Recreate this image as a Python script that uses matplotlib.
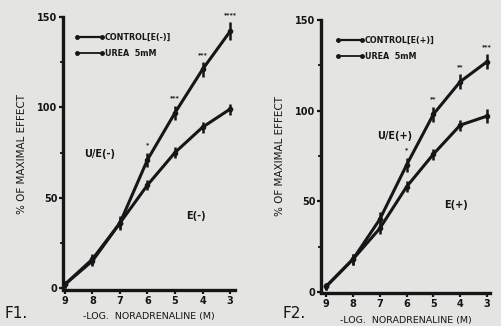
import numpy as np
import matplotlib.pyplot as plt

plt.rcParams['font.family'] = ['DejaVu Sans']
plt.rcParams['font.weight'] = 'bold'

INK = '#161616'
PAPER = '#e4e4e2'

log_conc = [9, 8, 7, 6, 5, 4, 3]

# Fig 1: E(-)
f1_control = [2, 16, 36, 57, 75, 89, 99]
f1_control_err = [2, 3, 3, 3, 3, 3, 3]
f1_urea = [2, 15, 36, 71, 97, 121, 142]
f1_urea_err = [2, 3, 4, 4, 4, 4, 5]
f1_stars = ['', '', '', '*', '***', '***', '****']

# Fig 2: E(+)
f2_control = [3, 18, 35, 58, 76, 92, 97]
f2_control_err = [2, 3, 3, 3, 3, 3, 4]
f2_urea = [3, 18, 40, 70, 98, 116, 127]
f2_urea_err = [2, 3, 4, 4, 4, 4, 4]
f2_stars = ['', '', '', '*', '**', '**', '***']

fig = plt.figure(figsize=(5.01, 3.26), dpi=100, facecolor=PAPER)
W, H = 501.0, 326.0


def panel(rect, xlim, ylim, ctrl, ctrl_err, urea, urea_err, stars,
          legend_name, u_label, e_label, u_pos, e_pos, fig_label, fig_pos):
    x0, y0, x1, y1 = rect
    ax = fig.add_axes([x0 / W, 1 - y1 / H, (x1 - x0) / W, (y1 - y0) / H])
    ax.set_facecolor(PAPER)
    ax.set_xlim(*xlim)
    ax.set_ylim(*ylim)
    for s in ['top', 'right']:
        ax.spines[s].set_visible(False)
    for s in ['left', 'bottom']:
        ax.spines[s].set_linewidth(2.4)
        ax.spines[s].set_color(INK)
    ax.spines['left'].set_bounds(0, 150)

    ax.errorbar(log_conc, ctrl, yerr=ctrl_err, color=INK, lw=2.2,
                marker='o', ms=3, capsize=0, elinewidth=1.8)
    ax.errorbar(log_conc, urea, yerr=urea_err, color=INK, lw=2.2,
                marker='o', ms=3, capsize=0, elinewidth=1.8)
    for x, y, e, s in zip(log_conc, urea, urea_err, stars):
        if s:
            ax.text(x, y + e + 3, s, ha='center', va='bottom', fontsize=4.5,
                    color=INK)

    ax.set_xticks(log_conc)
    ax.set_xticklabels([str(v) for v in log_conc], fontsize=7)
    ax.set_yticks([0, 50, 100, 150])
    ax.set_yticklabels(['0', '50', '100', '150'], fontsize=7)
    ax.set_yticks(np.arange(0, 151, 25), minor=True)
    ax.tick_params(axis='both', colors=INK, width=1.6, length=3, pad=1)
    ax.tick_params(axis='y', which='minor', width=1.2, length=2)
    ax.set_xlabel('-LOG.  NORADRENALINE (M)', fontsize=6.8, color=INK,
                  labelpad=5)
    ax.set_ylabel('% OF MAXIMAL EFFECT', fontsize=7.5, color=INK,
                  labelpad=7)

    ax.plot([8.55, 7.65], [139, 139], color=INK, lw=1.6, marker='o', ms=2.5)
    ax.plot([8.55, 7.65], [130, 130], color=INK, lw=1.3, marker='o', ms=2.5)
    ax.text(7.55, 139, legend_name, fontsize=5.8, va='center', color=INK)
    ax.text(7.55, 130, 'UREA  5mM', fontsize=5.8, va='center', color=INK)

    ax.text(u_pos[0], u_pos[1], u_label, fontsize=7, ha='left',
            va='center', color=INK)
    ax.text(e_pos[0], e_pos[1], e_label, fontsize=7, ha='left',
            va='center', color=INK)
    fig.text(fig_pos[0] / W, 1 - fig_pos[1] / H, fig_label, fontsize=11,
             weight='normal', color=INK, va='center')
    return ax


panel((63, 17, 235, 290), (9.07, 2.82), (-1.1, 150),
      f1_control, f1_control_err, f1_urea, f1_urea_err, f1_stars,
      'CONTROL[E(-)]', 'U/E(-)', 'E(-)', (8.3, 74), (4.6, 40),
      'F1.', (4, 314))

panel((321, 20, 490, 293), (9.19, 2.89), (-0.6, 150),
      f2_control, f2_control_err, f2_urea, f2_urea_err, f2_stars,
      'CONTROL[E(+)]', 'U/E(+)', 'E(+)', (7.1, 86), (4.6, 48),
      'F2.', (282, 314))

fig.savefig('out.png', dpi=100, facecolor=PAPER)
